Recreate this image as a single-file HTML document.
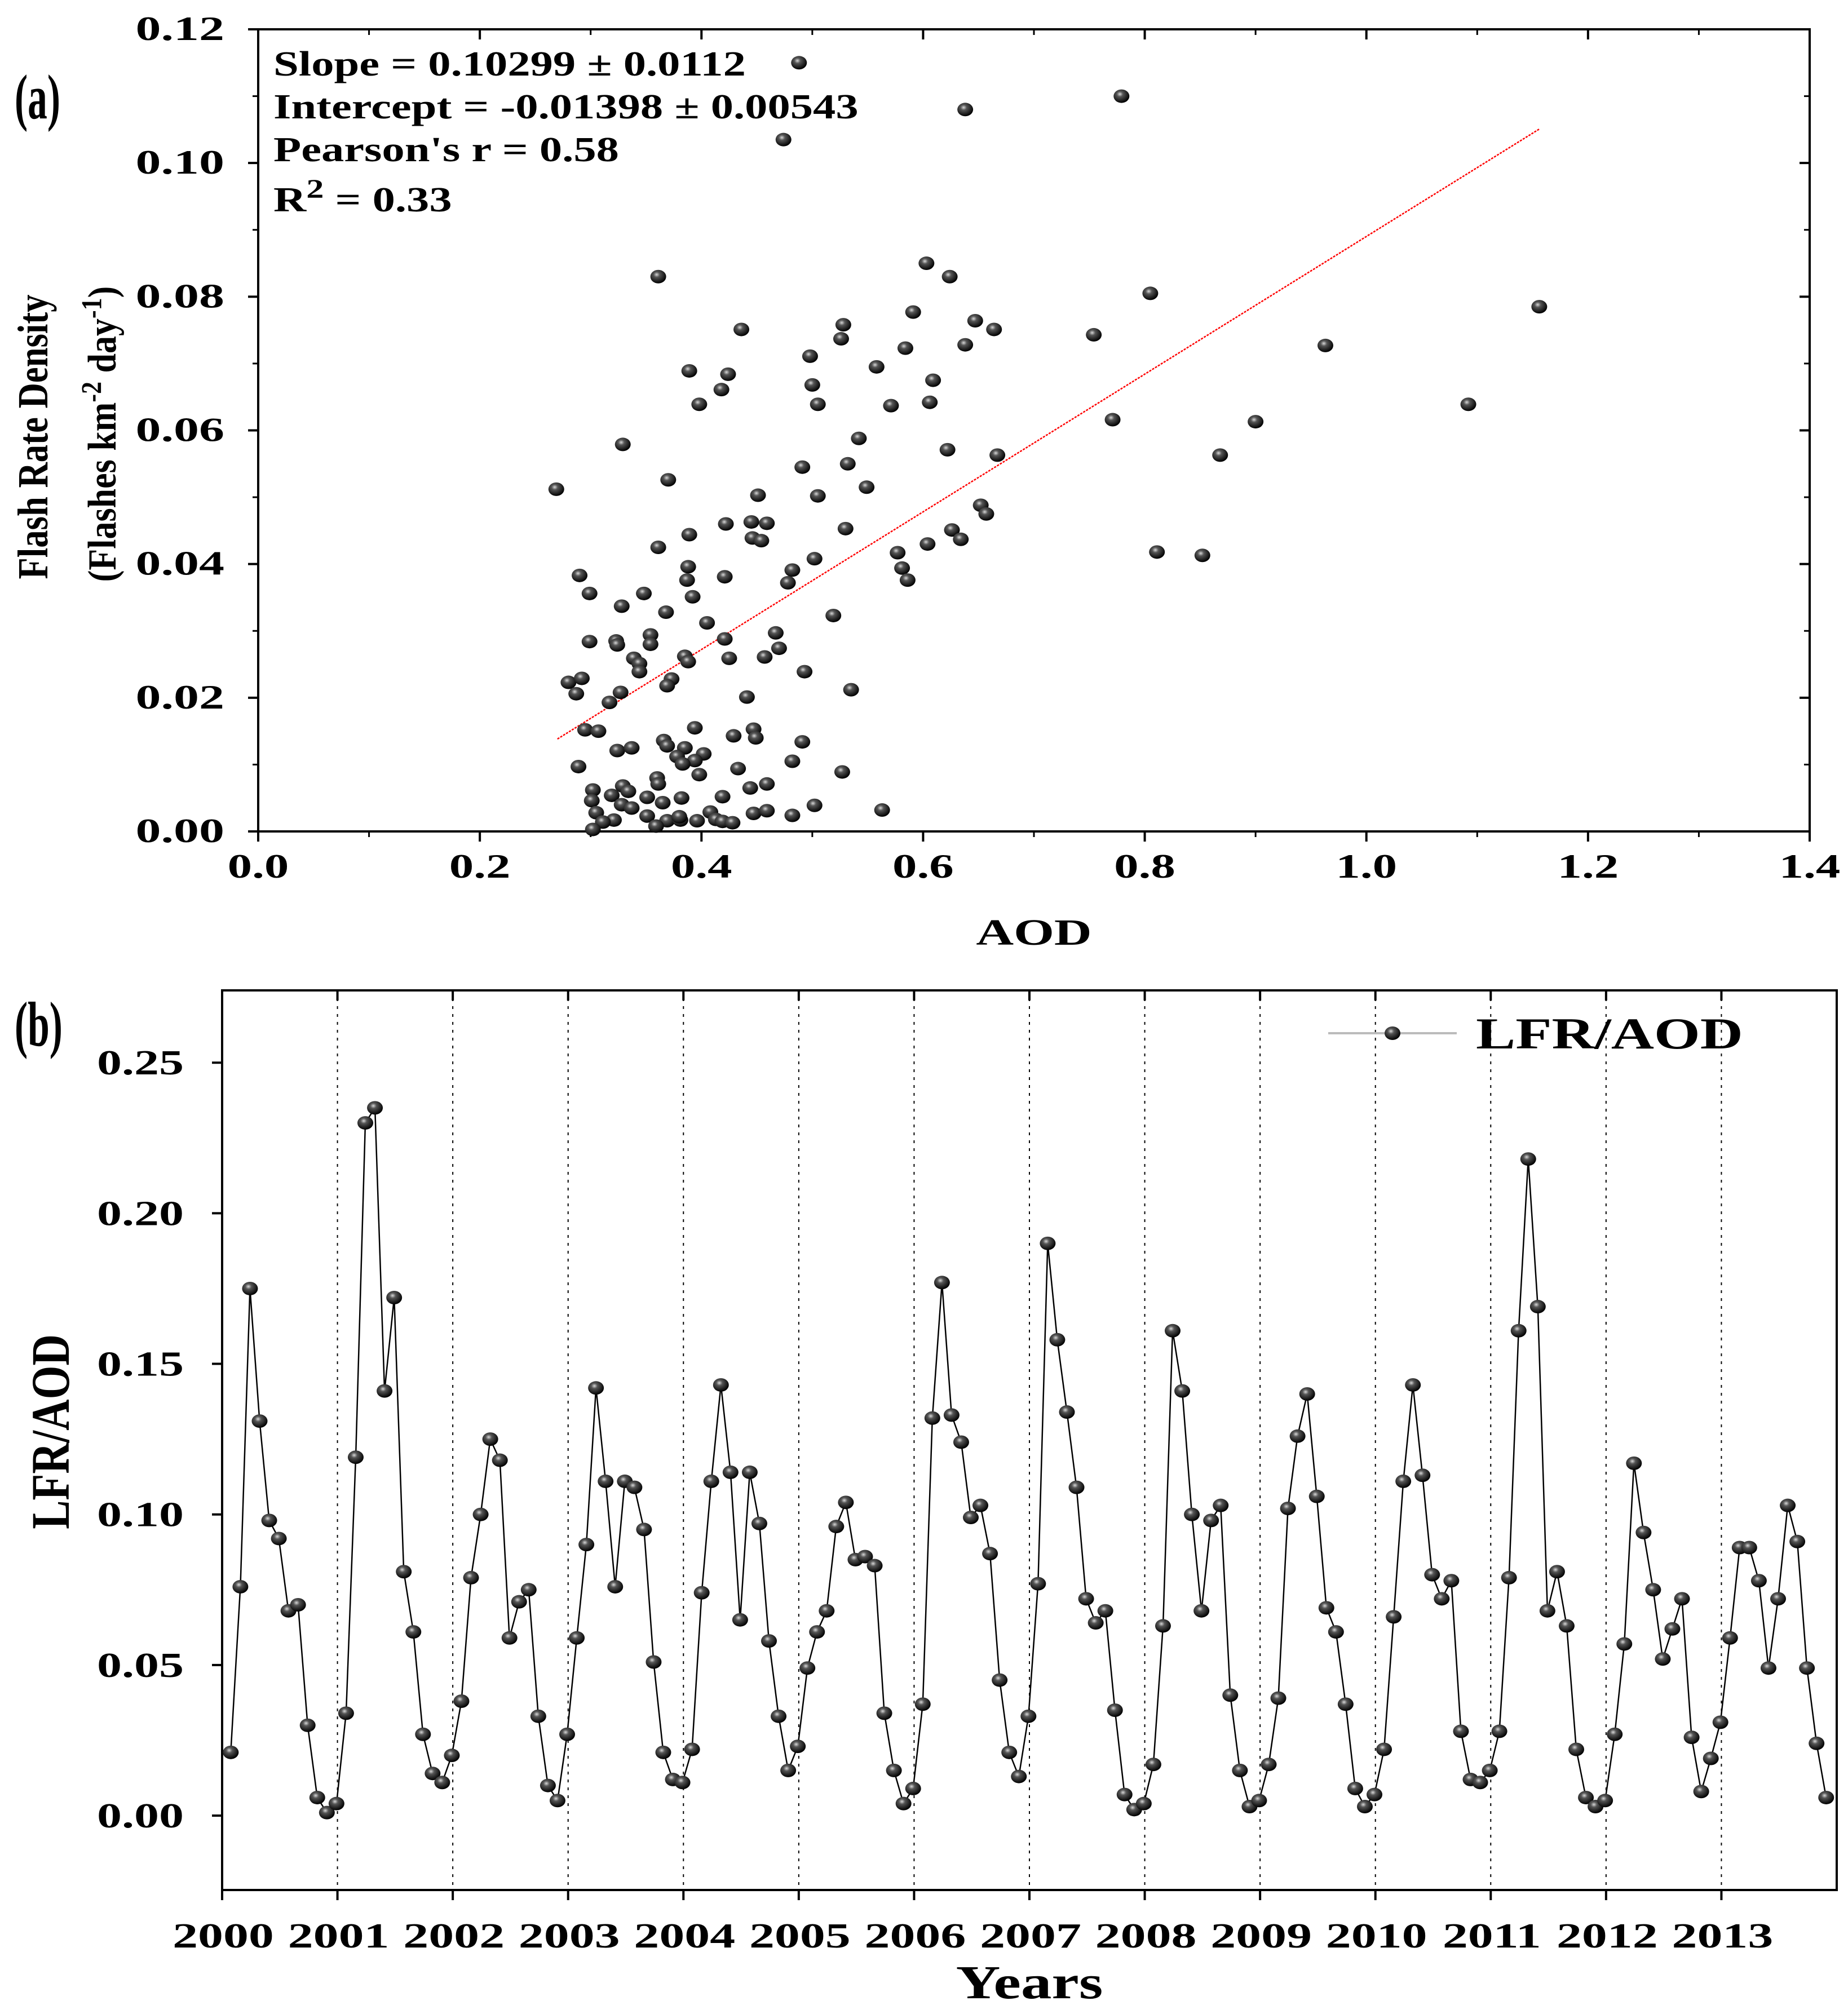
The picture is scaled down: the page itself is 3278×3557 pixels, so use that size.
<!DOCTYPE html>
<html><head><meta charset="utf-8"><style>
html,body{margin:0;padding:0;background:#fff}
svg{display:block}
text{font-family:"Liberation Serif",serif;font-weight:bold;fill:#000}
</style></head><body>
<svg id="fig" xmlns="http://www.w3.org/2000/svg" width="3278" height="3557" viewBox="0 0 3278 3557">
<defs>
<radialGradient id="ball" cx="0.4" cy="0.35" r="0.65">
<stop offset="0" stop-color="#d8d8d8"/><stop offset="0.3" stop-color="#555"/><stop offset="1" stop-color="#000"/>
</radialGradient>
</defs>
<g id="pa"></g>
<g id="pb"></g>
</svg>
<script>
// ---------- Panel (a) data ----------
const aodX = [0.488,0.779,0.638,0.474,0.603,0.624,0.361,0.805,1.156,0.591,0.647,0.664,0.436,0.528,0.526,0.754,0.963,0.638,0.584,0.498,0.558,0.389,0.424,0.418,0.500,0.609,0.398,0.505,0.571,0.606,1.092,0.771,0.900,0.329,0.542,0.622,0.667,0.868,0.491,0.532,0.269,0.370,0.549,0.451,0.505,0.652,0.657,0.422,0.445,0.459,0.530,0.626,0.389,0.446,0.454,0.634,0.361,0.604,0.577,0.811,0.852,0.502,0.388,0.581,0.482,0.290,0.421,0.387,0.586,0.478,0.299,0.348,0.392,0.328,0.368,0.519,0.405,0.467,0.354,0.299,0.323,0.324,0.354,0.421,0.470,0.385,0.339,0.344,0.388,0.425,0.457,0.344,0.493,0.280,0.292,0.287,0.327,0.373,0.369,0.535,0.441,0.317,0.295,0.307,0.394,0.447,0.449,0.429,0.366,0.369,0.491,0.324,0.337,0.385,0.378,0.402,0.394,0.383,0.398,0.289,0.482,0.433,0.527,0.360,0.361,0.459,0.444,0.302,0.329,0.334,0.319,0.351,0.382,0.419,0.301,0.328,0.365,0.337,0.502,0.563,0.305,0.351,0.408,0.447,0.459,0.482,0.321,0.311,0.369,0.381,0.396,0.413,0.419,0.428,0.359,0.302,0.380];
const flashY = [0.115,0.110,0.108,0.1035,0.085,0.083,0.083,0.0805,0.0785,0.0777,0.0764,0.0751,0.0751,0.0758,0.0737,0.0743,0.0727,0.0728,0.0723,0.0711,0.0695,0.0689,0.0684,0.0661,0.0668,0.0675,0.0639,0.0639,0.0637,0.0642,0.0639,0.0616,0.0613,0.0579,0.0588,0.0571,0.0563,0.0563,0.0545,0.0550,0.0512,0.0526,0.0515,0.0503,0.0502,0.0488,0.0475,0.0460,0.0463,0.0461,0.0453,0.0451,0.0444,0.0439,0.0435,0.0437,0.0425,0.0430,0.0417,0.0418,0.0413,0.0408,0.0396,0.0394,0.0391,0.0383,0.0381,0.0376,0.0376,0.0372,0.0356,0.0356,0.0351,0.0337,0.0328,0.0323,0.0312,0.0297,0.0294,0.0284,0.0285,0.0279,0.0280,0.0288,0.0274,0.0262,0.0259,0.0251,0.0254,0.0259,0.0261,0.0239,0.0239,0.0223,0.0229,0.0206,0.0208,0.0228,0.0218,0.0212,0.0201,0.0193,0.0152,0.0150,0.0155,0.0153,0.0140,0.0143,0.0136,0.0128,0.0134,0.0121,0.0125,0.0125,0.0112,0.0116,0.0106,0.0101,0.0085,0.0097,0.0105,0.0094,0.0089,0.0080,0.0071,0.0071,0.0065,0.0062,0.0068,0.0060,0.0054,0.0051,0.0050,0.0052,0.0046,0.0040,0.0043,0.0035,0.0039,0.0032,0.0028,0.0023,0.0029,0.0027,0.0031,0.0024,0.0017,0.0014,0.0016,0.0017,0.0016,0.0018,0.0015,0.0013,0.0008,0.0003,0.0022];
const fitSlope = 0.10299, fitIntercept = -0.01398, fitRange = [0.27, 1.156];
const aXTicks = ["0.0","0.2","0.4","0.6","0.8","1.0","1.2","1.4"];
const aYTicks = ["0.00","0.02","0.04","0.06","0.08","0.10","0.12"];
// ---------- Panel (b) data ----------
const lfrAod = [
0.021,0.076,0.175,0.131,0.098,0.092,0.068,0.070,0.030,0.006,0.001,0.004,
0.034,0.119,0.230,0.235,0.141,0.172,0.081,0.061,0.027,0.014,0.011,0.020,
0.038,0.079,0.100,0.125,0.118,0.059,0.071,0.075,0.033,0.010,0.005,0.027,
0.059,0.090,0.142,0.111,0.076,0.111,0.109,0.095,0.051,0.021,0.012,0.011,
0.022,0.074,0.111,0.143,0.114,0.065,0.114,0.097,0.058,0.033,0.015,0.023,
0.049,0.061,0.068,0.096,0.104,0.085,0.086,0.083,0.034,0.015,0.004,0.009,
0.037,0.132,0.177,0.133,0.124,0.099,0.103,0.087,0.045,0.021,0.013,0.033,
0.077,0.190,0.158,0.134,0.109,0.072,0.064,0.068,0.035,0.007,0.002,0.004,
0.017,0.063,0.161,0.141,0.100,0.068,0.098,0.103,0.040,0.015,0.003,0.005,
0.017,0.039,0.102,0.126,0.140,0.106,0.069,0.061,0.037,0.009,0.003,0.007,
0.022,0.066,0.111,0.143,0.113,0.080,0.072,0.078,0.028,0.012,0.011,0.015,
0.028,0.079,0.161,0.218,0.169,0.068,0.081,0.063,0.022,0.006,0.003,0.005,
0.027,0.057,0.117,0.094,0.075,0.052,0.062,0.072,0.026,0.008,0.019,0.031,
0.059,0.089,0.089,0.078,0.049,0.072,0.103,0.091,0.049,0.024,0.006];
const bYears = ["2000","2001","2002","2003","2004","2005","2006","2007","2008","2009","2010","2011","2012","2013"];
const bYTicks = ["0.00","0.05","0.10","0.15","0.20","0.25"];

const NS="http://www.w3.org/2000/svg";
function mk(parent,tag,attrs,txt){const e=document.createElementNS(NS,tag);for(const k in attrs)e.setAttribute(k,attrs[k]);if(txt!==undefined)e.textContent=txt;parent.appendChild(e);return e;}
function stretch(e,x,y,k){e.setAttribute('transform','translate('+x+' '+y+') scale('+k+' 1) translate('+(-x)+' '+(-y)+')');}

// ===== Panel a =====
const A={l:458,r:3210,t:52,b:1475,x0:0,x1:1.4,y0:0,y1:0.12};
const ax=v=>A.l+(v-A.x0)/(A.x1-A.x0)*(A.r-A.l);
const ay=v=>A.b-(v-A.y0)/(A.y1-A.y0)*(A.b-A.t);
const pa=document.getElementById('pa');
let box=mk(pa,'rect',{x:A.l,y:A.t,width:A.r-A.l,height:A.b-A.t,fill:'none',stroke:'#000','stroke-width':4});

aXTicks.forEach((t,i)=>{const v=parseFloat(t);const x=ax(v);
 mk(pa,'line',{x1:x,y1:A.b,x2:x,y2:A.b+18,stroke:'#000','stroke-width':4});
 mk(pa,'line',{x1:x,y1:A.t,x2:x,y2:A.t+18,stroke:'#000','stroke-width':4});
 if(i<aXTicks.length-1){const xm=ax(v+0.1);mk(pa,'line',{x1:xm,y1:A.b,x2:xm,y2:A.b+10,stroke:'#000','stroke-width':3});mk(pa,'line',{x1:xm,y1:A.t,x2:xm,y2:A.t+10,stroke:'#000','stroke-width':3});}
 const tx=mk(pa,'text',{x:x,y:A.b+82,'font-size':60,'text-anchor':'middle'},t);
 stretch(tx,x,A.b+82,1.45);
 
});
aYTicks.forEach((t,i)=>{const v=parseFloat(t);const y=ay(v);
 mk(pa,'line',{x1:A.l-18,y1:y,x2:A.l,y2:y,stroke:'#000','stroke-width':4});
 mk(pa,'line',{x1:A.r-18,y1:y,x2:A.r,y2:y,stroke:'#000','stroke-width':4});
 if(i<aYTicks.length-1){const ym=ay(v+0.01);mk(pa,'line',{x1:A.l-10,y1:ym,x2:A.l,y2:ym,stroke:'#000','stroke-width':3});mk(pa,'line',{x1:A.r-10,y1:ym,x2:A.r,y2:ym,stroke:'#000','stroke-width':3});}
 const tx=mk(pa,'text',{x:A.l-60,y:y+19,'font-size':60,'text-anchor':'end'},t);
 stretch(tx,A.l-60,y+19,1.5);
 
});
let fl=mk(pa,'line',{x1:ax(fitRange[0]),y1:ay(fitSlope*fitRange[0]+fitIntercept),x2:ax(fitRange[1]),y2:ay(fitSlope*fitRange[1]+fitIntercept),stroke:'#ff0000','stroke-width':2.5,'stroke-dasharray':'4 2'});

aodX.forEach((xv,i)=>{const c=mk(pa,'ellipse',{cx:ax(xv),cy:ay(flashY[i]),rx:14,ry:12,fill:'url(#ball)'});
 });
const stats=[["Slope = 0.10299 ± 0.0112",134],["Intercept = -0.01398 ± 0.00543",210],["Pearson's r = 0.58",286]];
stats.forEach(s=>{const t=mk(pa,'text',{x:485,y:s[1],'font-size':62},s[0]);stretch(t,485,s[1],1.3);});
let r2=mk(pa,'text',{x:485,y:375,'font-size':62});r2.innerHTML='R<tspan dy="-24" font-size="48">2</tspan><tspan dy="24"> = 0.33</tspan>';
stretch(r2,485,375,1.3);

let la=mk(pa,'text',{x:26,y:210,'font-size':112,'font-family':'Liberation Sans Narrow, Liberation Sans, sans-serif','font-weight':'normal'},'(a)');
stretch(la,26,210,0.62);

let yt1=mk(pa,'text',{x:0,y:0,'font-size':66,'text-anchor':'middle',transform:'translate(84,775) rotate(-90) scale(0.95 1.15)'},'Flash Rate Density');

let yt2=mk(pa,'text',{x:0,y:0,'font-size':62,'font-weight':'normal','text-anchor':'middle',transform:'translate(205,770) rotate(-90) scale(1 1.15)'});
yt2.innerHTML='(Flashes km<tspan dy="-22" font-size="44">-2</tspan><tspan dy="22"> day</tspan><tspan dy="-22" font-size="44">-1</tspan><tspan dy="22">)</tspan>';

let xt=mk(pa,'text',{x:1834,y:1676,'font-size':66,'text-anchor':'middle'},'AOD');
stretch(xt,1834,1676,1.4);


// ===== Panel b =====
const B={l:394,r:3258,t:1757,b:3353,x0:2000,x1:2014,y0:-0.0247,y1:0.274};
const bx=v=>B.l+(v-B.x0)/(B.x1-B.x0)*(B.r-B.l);
const by=v=>B.b-(v-B.y0)/(B.y1-B.y0)*(B.b-B.t);
const pb=document.getElementById('pb');
bYears.forEach((yr,i)=>{const x=bx(parseInt(yr));
 if(i>0){const g=mk(pb,'line',{x1:x,y1:B.t,x2:x,y2:B.b,stroke:'#000','stroke-width':2,'stroke-dasharray':'5 9'});}
 mk(pb,'line',{x1:x,y1:B.b,x2:x,y2:B.b+18,stroke:'#000','stroke-width':4});
 mk(pb,'line',{x1:x,y1:B.t,x2:x,y2:B.t+18,stroke:'#000','stroke-width':4});
 const t=mk(pb,'text',{x:x+2,y:3455,'font-size':62,'text-anchor':'middle'},yr);
 stretch(t,x+2,3455,1.45);
 
});
let fb=mk(pb,'rect',{x:B.l,y:B.t,width:B.r-B.l,height:B.b-B.t,fill:'none',stroke:'#000','stroke-width':4});

bYTicks.forEach(t=>{const y=by(parseFloat(t));
 mk(pb,'line',{x1:B.l-18,y1:y,x2:B.l,y2:y,stroke:'#000','stroke-width':4});
 const tx=mk(pb,'text',{x:326,y:y+21,'font-size':62,'text-anchor':'end'},t);
 stretch(tx,326,y+21,1.42);
 
});
const bxv=i=>2000+(i+0.9)/12;
let d=lfrAod.map((v,i)=>(i?'L':'M')+bx(bxv(i)).toFixed(1)+' '+by(v).toFixed(1)).join(' ');
let ln=mk(pb,'path',{d:d,fill:'none',stroke:'#000','stroke-width':2.5});

lfrAod.forEach((v,i)=>{const c=mk(pb,'ellipse',{cx:bx(bxv(i)),cy:by(v),rx:14,ry:12,fill:'url(#ball)'});
 });
let lg=mk(pb,'g',{});
mk(lg,'line',{x1:2356,y1:1833,x2:2584,y2:1833,stroke:'#bbb','stroke-width':4});
mk(lg,'ellipse',{cx:2470,cy:1833,rx:14,ry:12,fill:'url(#ball)'});
let lt=mk(lg,'text',{x:2618,y:1860,'font-size':78},'LFR/AOD');
stretch(lt,2618,1860,1.35);
let lb=mk(pb,'text',{x:26,y:1855,'font-size':112,'font-family':'Liberation Sans Narrow, Liberation Sans, sans-serif','font-weight':'normal'},'(b)');
stretch(lb,26,1855,0.62);

let byt=mk(pb,'text',{x:0,y:0,'font-size':96,'text-anchor':'middle',transform:'translate(122,2540) rotate(-90) scale(0.8 1)'},'LFR/AOD');

let bxt=mk(pb,'text',{x:1826,y:3545,'font-size':84,'text-anchor':'middle'},'Years');
stretch(bxt,1826,3545,1.3);

</script>
</body></html>
